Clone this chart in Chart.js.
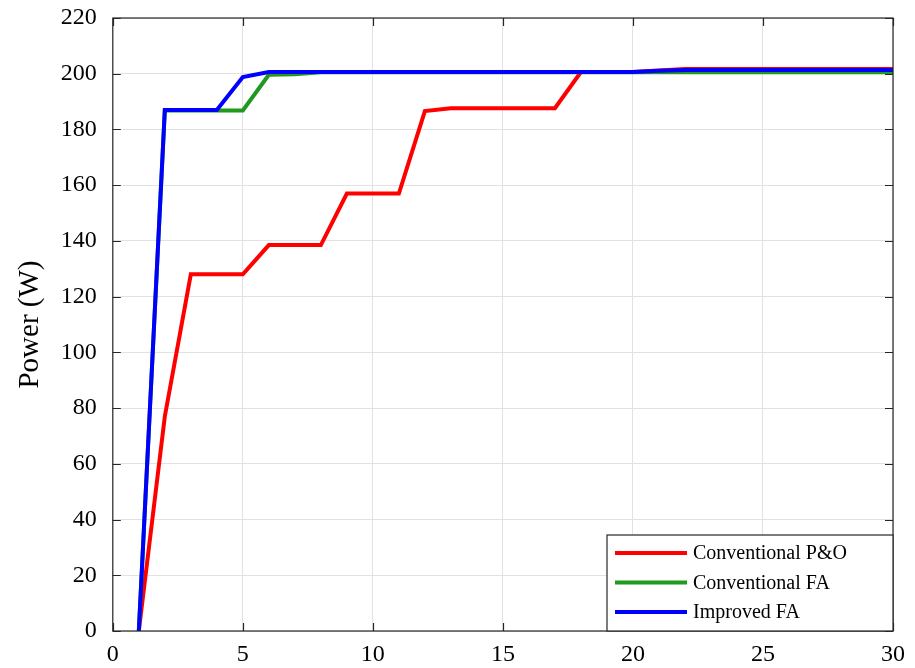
<!DOCTYPE html>
<html>
<head>
<meta charset="utf-8">
<script src="https://cdn.jsdelivr.net/npm/chart.js@4/dist/chart.umd.min.js"></script>
<style>
  body { margin: 0; background: #fff; }
  canvas { display: block; }
</style>
</head>
<body>
<canvas id="chart" width="915" height="668"></canvas>
<script>
// Iteration index (x axis)
const iterations = [1, 2, 3, 4, 5, 6, 7, 8, 9, 10, 11, 12, 13, 14, 15, 16, 17, 18, 19, 20,
    21, 22, 23, 24, 25, 26, 27, 28, 29, 30];

// Power values (W)
const conventionalPO = [0, 77, 128, 128, 128, 138.5, 138.5, 138.5, 157, 157, 157, 186.6, 187.6, 187.6,
    187.6, 187.6, 187.6, 200.6, 200.6, 200.6, 201.2, 201.7, 201.7, 201.7, 201.7, 201.7, 201.7,
    201.7, 201.7, 201.7];
const conventionalFA = [0, 186.8, 186.8, 186.8, 186.8, 199.6, 199.8, 200.5, 200.5, 200.5, 200.5, 200.5,
    200.5, 200.5, 200.5, 200.5, 200.5, 200.5, 200.5, 200.5, 200.5, 200.5, 200.5, 200.5, 200.5,
    200.5, 200.5, 200.5, 200.5, 200.5];
const improvedFA = [0, 187, 187, 187, 198.8, 200.6, 200.6, 200.6, 200.6, 200.6, 200.6, 200.6, 200.6,
    200.6, 200.6, 200.6, 200.6, 200.6, 200.6, 200.6, 201.1, 201.3, 201.3, 201.3, 201.3, 201.3,
    201.3, 201.3, 201.3, 201.3];

const seriesLabels = ['Conventional P&O', 'Conventional FA', 'Improved FA'];
const seriesColors = ['#ff0000', '#1f9a1f', '#0000ff'];

const xTicks = [0, 5, 10, 15, 20, 25, 30];
const yTicks = [0, 20, 40, 60, 80, 100, 120, 140, 160, 180, 200, 220];

// Helper to pair x and y arrays into points
function toPoints(xs, ys) {
    return xs.map((x, i) => ({ x: x, y: ys[i] }));
}

const serif = 'Liberation Serif, Times New Roman, serif';

// Draws the MATLAB style box with inward ticks
const framePlugin = {
    id: 'frame',
    afterDraw(chart) {
        const ctx = chart.ctx;
        const a = chart.chartArea;
        const xs = chart.scales.x;
        const ys = chart.scales.y;
        ctx.save();
        ctx.strokeStyle = '#262626';
        ctx.lineWidth = 1.2;
        ctx.strokeRect(a.left, a.top, a.right - a.left, a.bottom - a.top);
        ctx.beginPath();
        xTicks.forEach(v => {
            const px = Math.round(xs.getPixelForValue(v)) + 0.5;
            ctx.moveTo(px, a.bottom); ctx.lineTo(px, a.bottom - 8);
            ctx.moveTo(px, a.top); ctx.lineTo(px, a.top + 8);
        });
        yTicks.forEach(v => {
            const py = Math.round(ys.getPixelForValue(v)) + 0.5;
            ctx.moveTo(a.left, py); ctx.lineTo(a.left + 8, py);
            ctx.moveTo(a.right, py); ctx.lineTo(a.right - 8, py);
        });
        ctx.stroke();
        ctx.restore();
    }
};

// Legend box inside the bottom right corner of the plot
const boxLegendPlugin = {
    id: 'boxLegend',
    afterDraw(chart) {
        const ctx = chart.ctx;
        const a = chart.chartArea;
        const w = 286, h = 96;
        const left = a.right - w, top = a.bottom - h;
        ctx.save();
        ctx.fillStyle = '#fff';
        ctx.fillRect(left, top, w, h);
        ctx.strokeStyle = '#262626';
        ctx.lineWidth = 1.2;
        ctx.strokeRect(left, top, w, h);
        ctx.font = '20px ' + serif;
        ctx.textBaseline = 'middle';
        ctx.fillStyle = '#000';
        seriesLabels.forEach((label, i) => {
            const y = top + 18 + i * 29.5;
            ctx.strokeStyle = seriesColors[i];
            ctx.lineWidth = 4;
            ctx.beginPath();
            ctx.moveTo(left + 8, y);
            ctx.lineTo(left + 80, y);
            ctx.stroke();
            ctx.fillText(label, left + 86, y + 1);
        });
        ctx.restore();
    }
};

const seriesData = [conventionalPO, conventionalFA, improvedFA];

new Chart(document.getElementById('chart'), {
    type: 'line',
    data: {
        datasets: seriesData.map((ys, i) => ({
            label: seriesLabels[i],
            data: toPoints(iterations, ys),
            borderColor: seriesColors[i],
            backgroundColor: seriesColors[i],
            borderWidth: 4,
            pointRadius: 0,
            tension: 0,
            fill: false,
            order: 2 - i,
        })),
    },
    options: {
        responsive: false,
        animation: false,
        layout: { padding: { left: 13, right: 22, top: 18, bottom: -3 } },
        plugins: {
            legend: { display: false },
            tooltip: { enabled: false },
        },
        scales: {
            x: {
                type: 'linear',
                min: 0,
                max: 30,
                afterBuildTicks: (scale) => { scale.ticks = xTicks.map(v => ({ value: v })); },
                ticks: { color: '#000', font: { family: serif, size: 24, lineHeight: 1.0 }, padding: 4, maxRotation: 0 },
                grid: { color: '#e2e2e2', lineWidth: 1, drawTicks: true, tickLength: 8, tickColor: 'rgba(0,0,0,0)' },
                border: { display: false },
            },
            y: {
                min: 0,
                max: 220,
                afterBuildTicks: (scale) => { scale.ticks = yTicks.map(v => ({ value: v })); },
                ticks: { color: '#000', font: { family: serif, size: 24, lineHeight: 1.0 }, padding: 4 },
                grid: { color: '#e2e2e2', lineWidth: 1, drawTicks: true, tickLength: 12, tickColor: 'rgba(0,0,0,0)' },
                border: { display: false },
                title: {
                    display: true,
                    text: 'Power (W)',
                    color: '#000',
                    font: { family: serif, size: 29 },
                    padding: { top: 0, bottom: 9 },
                },
            },
        },
    },
    plugins: [framePlugin, boxLegendPlugin],
});
</script>
</body>
</html>
